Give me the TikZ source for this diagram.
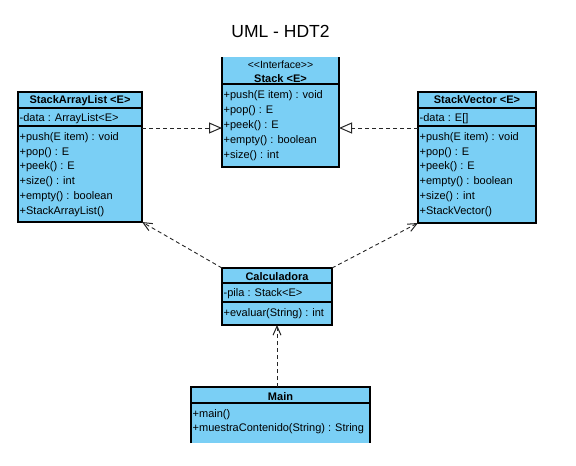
\documentclass[tikz,border=0pt]{standalone}
\usepackage{fontspec}
\setmainfont{Liberation Sans}
\usetikzlibrary{arrows.meta,calc}
\definecolor{umlblue}{RGB}{122,207,245}
\begin{document}
\begin{tikzpicture}[x=1pt,y=-1pt,
  umlbox/.style={fill=umlblue,draw=black,line width=1.2pt,inner sep=0pt,outer sep=0pt,anchor=north west,rectangle},
  umlfill/.style={fill=umlblue,draw=none,inner sep=0pt,outer sep=0pt,anchor=north west,rectangle},
  border/.style={line width=1.2pt,black},
  sepline/.style={line width=1.2pt,black},
  clsname/.style={font=\bfseries\fontsize{11}{13}\selectfont,anchor=base,inner sep=0pt},
  stereo/.style={font=\fontsize{10.5}{12}\selectfont,anchor=base,inner sep=0pt},
  member/.style={font=\fontsize{11}{13}\selectfont,anchor=base west,inner sep=0pt},
  realize/.style={dash pattern=on 4pt off 3pt,line width=0.9pt,black!85,-{Triangle[open,length=13pt,width=11pt,line width=1pt]}},
  depend/.style={dash pattern=on 4pt off 3pt,line width=0.9pt,black!85,-{Straight Barb[length=9pt,width=8pt,line width=1pt]}}
]
\useasboundingbox (0,0) rectangle (576,466);

% Title
\node[font=\fontsize{17.5}{20}\selectfont,inner sep=0pt] (title) at (280.5,31.5) {UML - HDT2};

% Stack interface (top border cut off)
\node[umlfill,minimum width=117pt,minimum height=110pt] (stack) at (222,57) {};
\draw[border] (stack.north west) -- (stack.south west) -- (stack.south east) -- (stack.north east);
\draw[sepline] ($(stack.north west)+(0,27)$) -- ($(stack.north east)+(0,27)$);
\node[stereo] (stackst) at (280.5,68) {<\kern0pt<Interface>\kern0pt>};
\node[clsname] (stackname) at (280.5,82) {Stack <E>};
\node[member] (s1) at (223.5,98.5) {+push(E item) : void};
\node[member] (s2) at (223.5,113.5) {+pop() : E};
\node[member] (s3) at (223.5,128.5) {+peek() : E};
\node[member] (s4) at (223.5,143.5) {+empty() : boolean};
\node[member] (s5) at (223.5,158.5) {+size() : int};

% StackArrayList
\node[umlbox,minimum width=124pt,minimum height=130pt] (sal) at (18,92) {};
\draw[sepline] ($(sal.north west)+(0,16)$) -- ($(sal.north east)+(0,16)$);
\draw[sepline] ($(sal.north west)+(0,34)$) -- ($(sal.north east)+(0,34)$);
\node[clsname] (salname) at (80,103) {StackArrayList <E>};
\node[member] (a0) at (19.5,121) {-data : ArrayList<E>};
\node[member] (a1) at (19.5,140) {+push(E item) : void};
\node[member] (a2) at (19.5,155) {+pop() : E};
\node[member] (a3) at (19.5,169.5) {+peek() : E};
\node[member] (a4) at (19.5,184.5) {+size() : int};
\node[member] (a5) at (19.5,199) {+empty() : boolean};
\node[member] (a6) at (19.5,214) {+StackArrayList()};

% StackVector
\node[umlbox,minimum width=118pt,minimum height=131pt] (sv) at (418,92) {};
\draw[sepline] ($(sv.north west)+(0,16)$) -- ($(sv.north east)+(0,16)$);
\draw[sepline] ($(sv.north west)+(0,34)$) -- ($(sv.north east)+(0,34)$);
\node[clsname] (svname) at (477,103) {StackVector <E>};
\node[member] (v0) at (419.5,121) {-data : E[]};
\node[member] (v1) at (419.5,140) {+push(E item) : void};
\node[member] (v2) at (419.5,155) {+pop() : E};
\node[member] (v3) at (419.5,169.5) {+peek() : E};
\node[member] (v4) at (419.5,184.5) {+empty() : boolean};
\node[member] (v5) at (419.5,199) {+size() : int};
\node[member] (v6) at (419.5,214) {+StackVector()};

% Calculadora
\node[umlbox,minimum width=110pt,minimum height=57pt] (calc) at (222,268) {};
\draw[sepline] ($(calc.north west)+(0,15)$) -- ($(calc.north east)+(0,15)$);
\draw[sepline] ($(calc.north west)+(0,34)$) -- ($(calc.north east)+(0,34)$);
\node[clsname] (calcname) at (277,280) {Calculadora};
\node[member] (c0) at (223.5,296.5) {-pila : Stack<E>};
\node[member] (c1) at (223.5,316.5) {+evaluar(String) : int};

% Main (bottom border cut off)
\node[umlfill,minimum width=179pt,minimum height=56pt] (main) at (191,387) {};
\draw[border] (main.south west) -- (main.north west) -- (main.north east) -- (main.south east);
\draw[sepline] ($(main.north west)+(0,16)$) -- ($(main.north east)+(0,16)$);
\node[clsname] (mainname) at (280.5,400) {Main};
\node[member] (m0) at (192.5,417) {+main()};
\node[member] (m1) at (192.5,431) {+muestraContenido(String) : String};

% Connectors
\draw[realize] ($(sal.north east)+(0,36)$) -- ($(stack.north west)+(0,71)$);
\draw[realize] ($(sv.north west)+(0,36)$) -- ($(stack.north east)+(0,71)$);
\draw[depend] (calc.north west) -- (sal.south east);
\draw[depend] (calc.north east) -- (sv.south west);
\draw[depend] (calc.south |- main.north) -- (calc.south);
\end{tikzpicture}
\end{document}
